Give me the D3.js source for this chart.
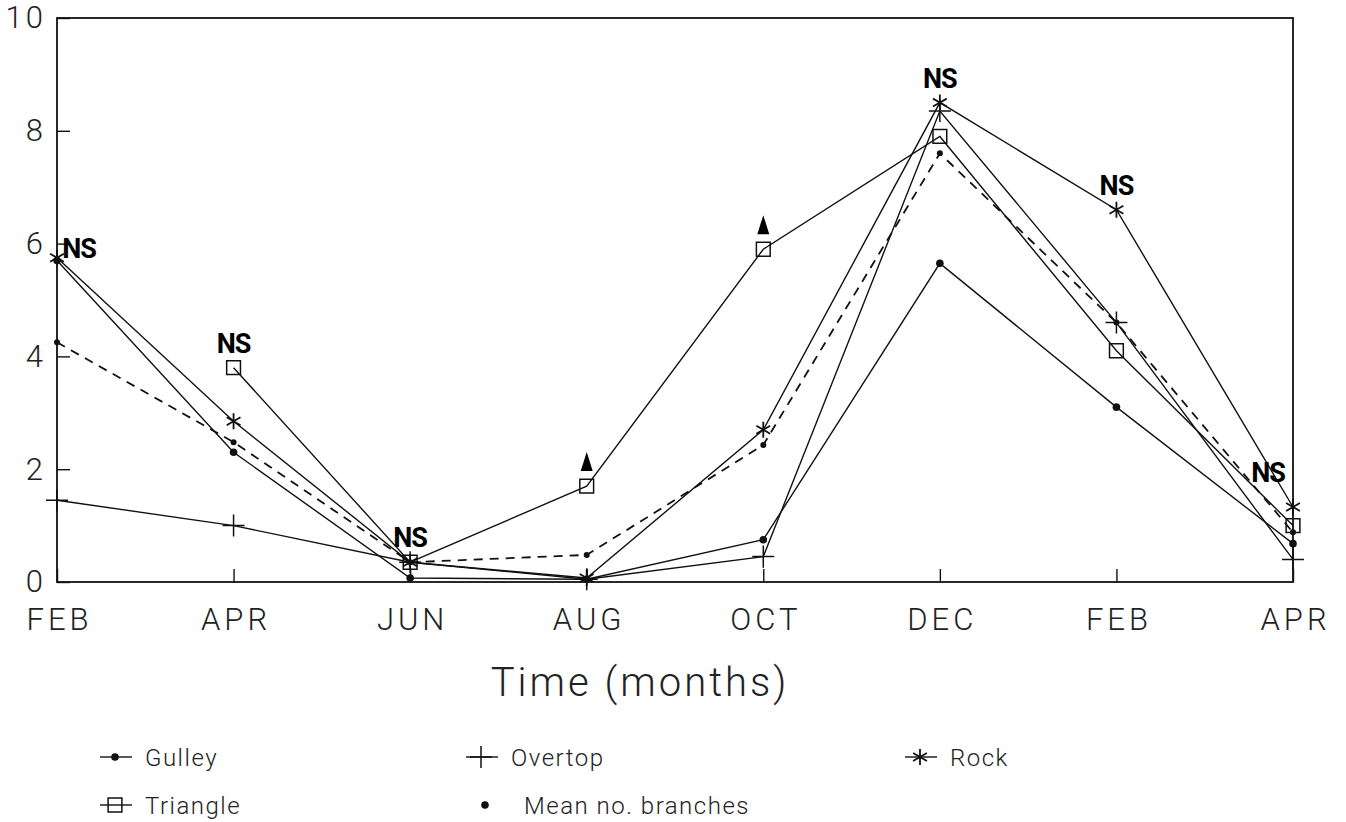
<!DOCTYPE html>
<html>
<head>
<meta charset="utf-8">
<script src="https://cdn.jsdelivr.net/npm/d3@7"></script>
<style>
  body { margin: 0; background: #fff; }
  text { font-family: Roboto, 'DejaVu Sans', sans-serif; }
</style>
</head>
<body>
<div id="chart"></div>
<script>
// month labels along the bottom (two years)
const months = ['FEB', 'APR', 'JUN', 'AUG', 'OCT', 'DEC', 'FEB', 'APR']
const yTicks = [0, 2, 4, 6, 8, 10]

// mean values per site
const gulley = [5.7, 2.3, 0.07, 0.05, 0.75, 5.65, 3.1, 0.68]
const overtop = [1.45, 1.0, 0.35, 0.05, 0.45, 8.35, 4.6, 0.4]
const rock = [5.75, 2.85, 0.35, 0.07, 2.7, 8.5, 6.6, 1.33]
const triangle = [null, 3.8, 0.35, 1.7, 5.9, 7.9, 4.1, 1.0]
const meanBranches = [4.25, 2.48, 0.35, 0.48, 2.43, 7.6, 4.6, 0.88]

// significance mark for each sampling date
const signif = ['NS', 'NS', 'NS', '▲', '▲', 'NS', 'NS', 'NS']

const width = 1346
const height = 822
const margin = { top: 18, right: 53, bottom: 240, left: 57 }

const svg = d3.select('#chart')
  .append('svg')
  .attr('width', width)
  .attr('height', height)

const x = d3.scalePoint()
  .domain(d3.range(months.length))
  .range([margin.left, width - margin.right])

const y = d3.scaleLinear()
  .domain([0, 10])
  .range([height - margin.bottom, margin.top])

// frame
svg.append('rect')
  .attr('x', x(0))
  .attr('y', y(10))
  .attr('width', x(months.length - 1) - x(0))
  .attr('height', y(0) - y(10))
  .attr('fill', 'none')
  .attr('stroke', '#111')
  .attr('stroke-width', 1.8)

const yAxis = svg.append('g')
  .attr('transform', 'translate(' + x(0) + ',0)')
  .call(d3.axisLeft(y).tickValues(yTicks).tickSizeInner(-13).tickSizeOuter(0).tickPadding(11))
yAxis.select('.domain').remove()
yAxis.selectAll('line').attr('stroke', '#111').attr('stroke-width', 1.4)
yAxis.selectAll('text')
  .attr('font-size', 31)
  .attr('font-weight', 300)
  .attr('fill', '#222')
  .attr('letter-spacing', 3)

const xAxis = svg.append('g')
  .attr('transform', 'translate(0,' + y(0) + ')')
  .call(d3.axisBottom(x).tickFormat(i => months[i]).tickSizeInner(-13).tickSizeOuter(0).tickPadding(26))
xAxis.select('.domain').remove()
xAxis.selectAll('line').attr('stroke', '#111').attr('stroke-width', 1.4)
xAxis.selectAll('text')
  .attr('font-size', 31)
  .attr('font-weight', 300)
  .attr('fill', '#222')
  .attr('letter-spacing', 4)
  .attr('dx', 2)

svg.append('text')
  .attr('x', 640)
  .attr('y', 696)
  .attr('text-anchor', 'middle')
  .attr('font-size', 40)
  .attr('font-weight', 300)
  .attr('letter-spacing', 3)
  .attr('fill', '#222')
  .text('Time (months)')

const series = [
  { name: 'Gulley', values: gulley, symbol: 'dot', dash: null },
  { name: 'Overtop', values: overtop, symbol: 'plus', dash: null },
  { name: 'Rock', values: rock, symbol: 'star', dash: null },
  { name: 'Triangle', values: triangle, symbol: 'square', dash: null },
  { name: 'Mean no. branches', values: meanBranches, symbol: 'small', dash: '9,7' }
]

const line = d3.line()
  .defined(d => d != null)
  .x((d, i) => x(i))
  .y(d => y(d))

function drawMarker (g, type, cx, cy) {
  if (type === 'dot') {
    g.append('circle').attr('cx', cx).attr('cy', cy).attr('r', 3.8).attr('fill', '#111')
  } else if (type === 'small') {
    g.append('circle').attr('cx', cx).attr('cy', cy).attr('r', 3).attr('fill', '#111')
  } else if (type === 'plus') {
    g.append('path')
      .attr('transform', 'translate(' + cx + ',' + cy + ')')
      .attr('d', d3.symbol(d3.symbolPlus, 160)())
      .attr('fill', 'none').attr('stroke', '#111').attr('stroke-width', 1.5)
  } else if (type === 'star') {
    g.append('path')
      .attr('transform', 'translate(' + cx + ',' + cy + ')')
      .attr('d', d3.symbol(d3.symbolAsterisk, 180)())
      .attr('fill', 'none').attr('stroke', '#111').attr('stroke-width', 1.8)
  } else if (type === 'square') {
    g.append('path')
      .attr('transform', 'translate(' + cx + ',' + cy + ')')
      .attr('d', d3.symbol(d3.symbolSquare, 190)())
      .attr('fill', 'none').attr('stroke', '#111').attr('stroke-width', 1.5)
  }
}

series.forEach(function (s) {
  const g = svg.append('g')
  g.append('path')
    .datum(s.values)
    .attr('fill', 'none')
    .attr('stroke', '#111')
    .attr('stroke-width', s.dash ? 1.8 : 1.4)
    .attr('stroke-dasharray', s.dash)
    .attr('d', line)
  s.values.forEach(function (v, i) {
    if (v != null) drawMarker(g, s.symbol, x(i), y(v))
  })
})

// significance labels above the highest point of each date
signif.forEach(function (lab, i) {
  const top = d3.max(series, s => s.values[i])
  let dx = 0
  let dy = -15
  if (i === 0) { dx = 22; dy = 0 }
  if (i === months.length - 1) { dx = -25; dy = -25 }
  if (lab === 'NS') {
    svg.append('text')
      .attr('x', x(i) + dx)
      .attr('y', y(top) + dy)
      .attr('text-anchor', 'middle')
      .attr('font-family', 'Open Sans')
      .attr('font-size', 27)
      .attr('font-weight', 700)
      .attr('letter-spacing', -1)
      .attr('fill', '#000')
      .text(lab)
  } else {
    const by = y(top) + dy
    svg.append('path')
      .attr('d', 'M' + x(i) + ',' + (by - 19) + 'L' + (x(i) + 6) + ',' + by + 'L' + (x(i) - 6) + ',' + by + 'Z')
      .attr('fill', '#000')
  }
})

// legend
const legendItems = [
  { name: 'Gulley', symbol: 'dot', line: true, lx: 100, ly: 757 },
  { name: 'Overtop', symbol: 'plus', line: true, lx: 466, ly: 757 },
  { name: 'Rock', symbol: 'star', line: true, lx: 905, ly: 757 },
  { name: 'Triangle', symbol: 'square', line: true, lx: 100, ly: 805 },
  { name: 'Mean no. branches', symbol: 'small', line: false, lx: 470, ly: 805 }
]

const legend = svg.append('g')
legendItems.forEach(function (d) {
  const g = legend.append('g')
  if (d.line) {
    g.append('line')
      .attr('x1', d.lx).attr('x2', d.lx + 32)
      .attr('y1', d.ly).attr('y2', d.ly)
      .attr('stroke', '#111').attr('stroke-width', 1.4)
  }
  const s = d.symbol === 'small' ? 'dot' : d.symbol
  drawMarker(g, s, d.lx + 15, d.ly)
  g.append('text')
    .attr('x', d.lx + (d.line ? 45 : 54))
    .attr('y', d.ly + 9)
    .attr('font-size', 24)
    .attr('font-weight', 300)
    .attr('letter-spacing', 1.5)
    .attr('fill', '#222')
    .text(d.name)
})
</script>
</body>
</html>
